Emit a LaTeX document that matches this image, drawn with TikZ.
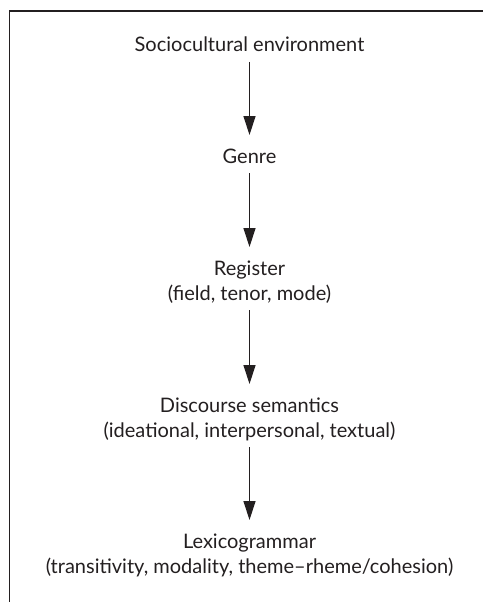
\documentclass[tikz,border=0pt]{standalone}
\usepackage{fontspec}
\setmainfont{Lato}
\usetikzlibrary{arrows.meta}
\definecolor{ink}{HTML}{231F20}
\tikzset{
  lbl/.style={anchor=base, inner sep=0pt, text=ink, font=\fontsize{20}{23}\selectfont},
  flow/.style={draw=ink, line width=1.3pt, -{Triangle[width=12pt,length=19pt]}},
  frame/.style={draw=ink, line width=1.6pt}
}
\begin{document}
\begin{tikzpicture}[x=1pt,y=-1pt]
\useasboundingbox (0,0) rectangle (483,602);
\draw[frame] (9.5,602) -- (9.5,11) -- (483,11);
\node[lbl] (soc) at (249.5,52) {Sociocultural environment};
\node[lbl] (gen) at (249.5,163) {Genre};
\node[lbl] (reg) at (249.5,275) {Register};
\node[lbl] (regs) at (249.5,300) {(field, tenor, mode)};
\node[lbl] (dis) at (249.5,412) {Discourse semantics};
\node[lbl] (diss) at (249.5,437) {(ideational, interpersonal, textual)};
\node[lbl] (lex) at (249.5,548) {Lexicogrammar};
\node[lbl] (lexs) at (249.5,573) {(transitivity, modality, theme–rheme/cohesion)};
\draw[flow] ([yshift=-10pt]soc.base) -- ([yshift=28pt]gen.base);
\draw[flow] ([yshift=-10pt]gen.base) -- ([yshift=28pt]reg.base);
\draw[flow] ([yshift=-10pt]regs.base) -- ([yshift=28pt]dis.base);
\draw[flow] ([yshift=-10pt]diss.base) -- ([yshift=28pt]lex.base);
\end{tikzpicture}
\end{document}
